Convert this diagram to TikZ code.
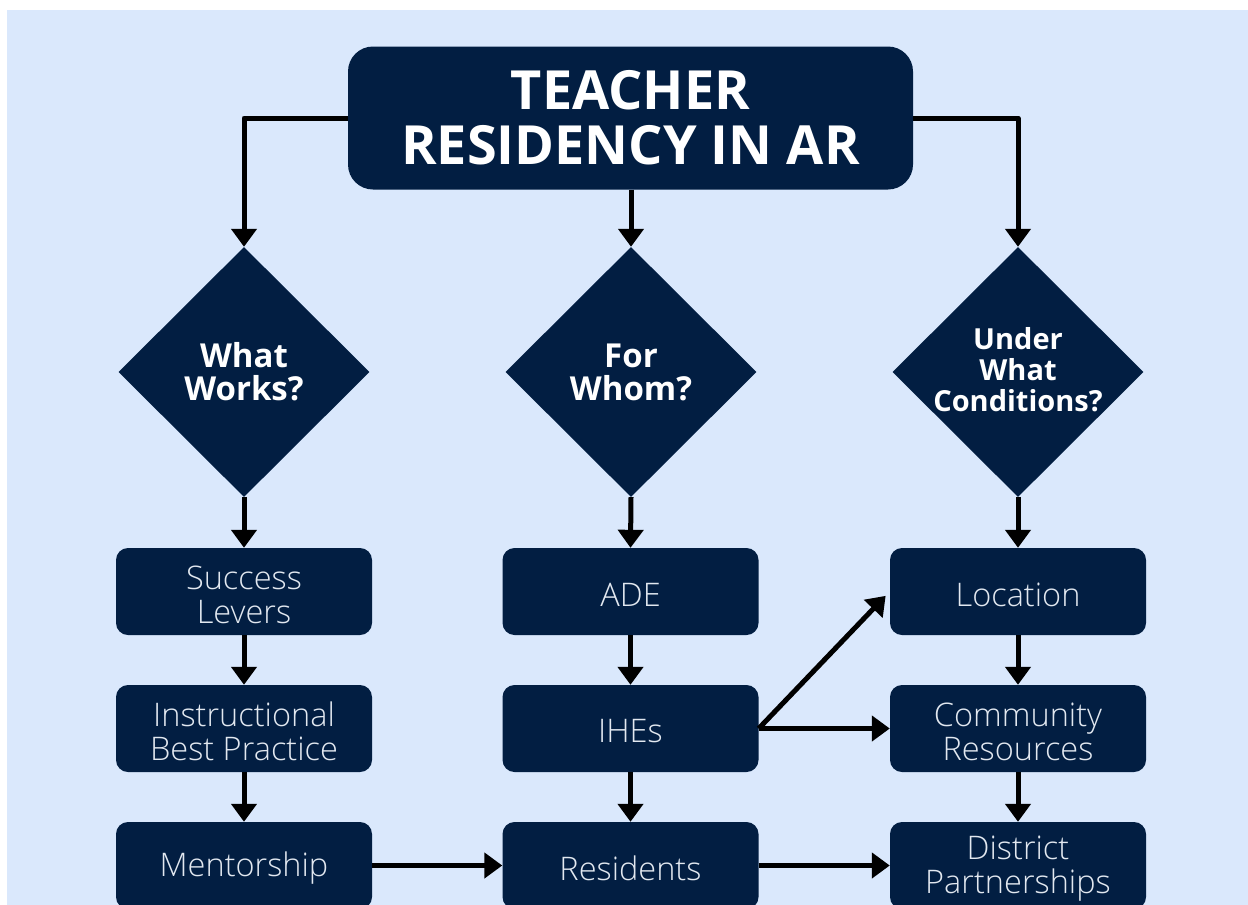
\documentclass[tikz,border=0pt]{standalone}
\usepackage{fontspec}
\setmainfont{Open Sans}
\IfFontExistsTF{Open Sans Light}
  {\newfontfamily\itemfont{Open Sans Light}}
  {\newfontfamily\itemfont{Open Sans}}
\usetikzlibrary{shapes.geometric,arrows.meta,calc}
\definecolor{navy}{RGB}{2,30,66}
\definecolor{bgblue}{RGB}{218,232,252}
\definecolor{boxtext}{RGB}{226,232,240}

\begin{document}
\begin{tikzpicture}[x=1pt,y=-1pt,
  titlebox/.style={fill=navy, rounded corners=25pt, minimum width=565pt, minimum height=143pt,
    text=white, font=\bfseries\fontsize{54}{55}\selectfont, align=center, inner sep=0pt},
  question/.style={diamond, fill=navy, minimum width=251pt, minimum height=250pt, inner sep=0pt},
  qtext/.style={text=white, font=\bfseries\fontsize{33}{33}\selectfont, align=center, inner sep=0pt},
  qtextsmall/.style={qtext, font=\bfseries\fontsize{29}{31}\selectfont},
  item/.style={fill=navy, rounded corners=12pt, minimum width=256pt, minimum height=87pt},
  itemtext/.style={text=boxtext, font=\itemfont\fontsize{32.5}{34}\selectfont, align=center, inner sep=0pt},
  link/.style={line width=5pt, line join=round, -{Triangle[width=25pt,length=18pt]}},
]
% canvas
\useasboundingbox (0,0) rectangle (1248,905);
\fill[white] (0,0) rectangle (1248,905);
\fill[bgblue] (7,10) rectangle (1248,905);

% title
\node[titlebox] (title) at (630.5,118) {TEACHER\\RESIDENCY IN AR};

% guiding questions
\node[question] (q1) at (244,372) {};
\node[question] (q2) at (631,372) {};
\node[question] (q3) at (1018,372) {};
\node[qtext] (q1t) at (244,372) {What\\Works?};
\node[qtext] (q2t) at (631,372) {For\\Whom?};
\node[qtextsmall] (q3t) at (1018,370) {Under\\What\\Conditions?};

% item boxes
\node[item] (a1) at (244,591.5) {};
\node[item] (a2) at (244,728.5) {};
\node[item] (a3) at (244,865.5) {};
\node[item] (b1) at (630.5,591.5) {};
\node[item] (b2) at (630.5,728.5) {};
\node[item] (b3) at (630.5,865.5) {};
\node[item] (c1) at (1018,591.5) {};
\node[item] (c2) at (1018,728.5) {};
\node[item] (c3) at (1018,865.5) {};

% item labels
\node[itemtext] (a1t) at ($(a1)+(0,3)$) {Success\\Levers};
\node[itemtext] (a2t) at ($(a2)+(0,3)$) {Instructional\\Best Practice};
\node[itemtext] (a3t) at ($(a3)+(0,3)$) {Mentorship};
\node[itemtext] (b1t) at ($(b1)+(0,3)$) {ADE};
\node[itemtext] (b2t) at ($(b2)+(0,3)$) {IHEs};
\node[itemtext] (b3t) at ($(b3)+(0,3)$) {Residents};
\node[itemtext] (c1t) at ($(c1)+(0,3)$) {Location};
\node[itemtext] (c2t) at ($(c2)+(0,3)$) {Community\\Resources};
\node[itemtext] (c3t) at ($(c3)+(0,3)$) {District\\Partnerships};

% connectors
\draw[link] (title.west) -| (q1.north);
\draw[link] (title.east) -| (q3.north);
\draw[link] (title.south -| q2.north) -- (q2.north);
\draw[link] (q1.south) -- (a1.north);
\draw[link] (q2.south) -- (b1.north);
\draw[link] (q3.south) -- (c1.north);
\draw[link] (a1.south) -- (a2.north);
\draw[link] (a2.south) -- (a3.north);
\draw[link] (b1.south) -- (b2.north);
\draw[link] (b2.south) -- (b3.north);
\draw[link] (c1.south) -- (c2.north);
\draw[link] (c2.south) -- (c3.north);
\draw[link] (a3.east) -- (b3.west);
\draw[link] (b3.east) -- (c3.west);
\draw[link] (b2.east) -- (c2.west);
\draw[link, shorten >=6pt] (b2.east) -- (c1.west);
\end{tikzpicture}
\end{document}
